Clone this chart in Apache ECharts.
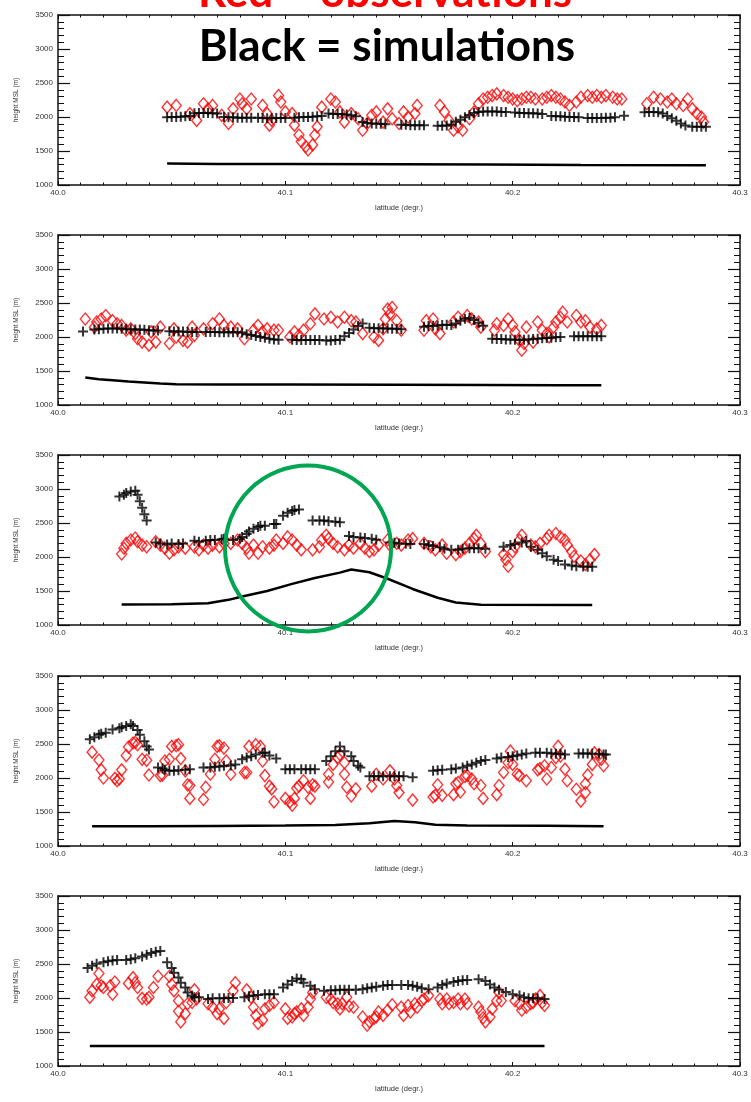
<!DOCTYPE html>
<html><head><meta charset="utf-8">
<script src="https://cdn.jsdelivr.net/npm/echarts@6/dist/echarts.min.js"></script>
<style>html,body{margin:0;padding:0;background:#fff}#c{width:751px;height:1102px}</style>
</head><body><div id="c"></div>
<script>
// ---- axis ticks ----
const latTicks = [40.0, 40.1, 40.2, 40.3];
const heightTicks = [1000, 1500, 2000, 2500, 3000, 3500];
const titleObs = 'Red = observations';
const titleSim = 'Black = simulations';
const xName = 'latitude (degr.)';
const yName = 'height MSL (m)';

// ---- panel 1 ----
const obs1 = [[40.048,2145],[40.052,2170],[40.058,2050],[40.061,1950],[40.064,2195],[40.066,2120],[40.068,2170],[40.072,2025],[40.075,1905],[40.077,2120],[40.080,2265],[40.081,2195],[40.083,2120],[40.085,2265],[40.090,2170],[40.092,2050],[40.093,1880],[40.094,1950],[40.097,2315],[40.098,2220],[40.100,2075],[40.103,2050],[40.104,1880],[40.106,1735],[40.107,1640],[40.109,1565],[40.110,1515],[40.112,1590],[40.113,1735],[40.114,1855],[40.116,2145],[40.120,2265],[40.122,2220],[40.124,2075],[40.126,1925],[40.129,2050],[40.132,1975],[40.134,1805],[40.136,1905],[40.138,2025],[40.140,2075],[40.143,1925],[40.145,2120],[40.147,1975],[40.150,1905],[40.152,2075],[40.154,2000],[40.157,2050],[40.158,2170],
[40.168,2170],[40.170,2075],[40.172,1950],[40.174,1805],[40.176,1855],[40.178,1805],[40.181,1975],[40.183,2075],[40.185,2195],[40.187,2265],[40.189,2290],[40.191,2315],[40.193,2340],[40.196,2315],[40.198,2290],[40.200,2265],[40.202,2240],[40.204,2265],[40.206,2290],[40.208,2290],[40.210,2265],[40.213,2265],[40.215,2290],[40.217,2315],[40.219,2290],[40.221,2265],[40.223,2220],[40.225,2170],[40.228,2220],[40.230,2290],[40.233,2315],[40.235,2290],[40.237,2315],[40.239,2290],[40.241,2315],[40.244,2290],[40.246,2265],[40.248,2265],
[40.259,2195],[40.262,2290],[40.265,2265],[40.268,2220],[40.270,2265],[40.272,2195],[40.275,2170],[40.277,2265],[40.279,2120],[40.281,2050],[40.283,2000],[40.284,1925]];
const sim1 = [[40.048,1995],[40.050,2000],[40.052,2000],[40.054,2005],[40.056,2010],[40.058,2015],
[40.060,2055],[40.062,2060],[40.064,2060],[40.066,2060],[40.068,2055],[40.070,2050],
[40.073,2000],[40.075,1995],[40.077,1995],[40.079,1990],[40.081,1990],[40.083,1990],[40.085,1990],
[40.088,1990],[40.090,1985],[40.092,1980],[40.094,1980],[40.096,1985],[40.098,1985],[40.100,1985],
[40.104,1990],[40.106,1995],[40.108,2000],[40.110,2000],[40.112,2005],[40.114,2010],[40.116,2015],
[40.119,2050],[40.121,2045],[40.123,2045],[40.125,2040],[40.127,2035],[40.129,2025],[40.131,2010],
[40.134,1925],[40.136,1910],[40.138,1905],[40.140,1900],[40.142,1900],[40.144,1895],
[40.151,1885],[40.153,1885],[40.155,1880],[40.157,1880],[40.159,1880],[40.161,1880],
[40.167,1870],[40.169,1870],[40.171,1875],
[40.173,1890],[40.175,1930],[40.177,1960],[40.179,1995],[40.181,2030],[40.183,2060],
[40.185,2075],[40.187,2080],[40.189,2080],[40.191,2080],[40.193,2080],[40.195,2075],[40.197,2075],
[40.201,2065],[40.203,2060],[40.205,2060],[40.207,2055],[40.209,2055],[40.211,2050],[40.213,2045],
[40.217,2015],[40.219,2010],[40.221,2010],[40.223,2005],[40.225,2000],[40.227,2000],[40.229,1995],
[40.233,1985],[40.235,1985],[40.237,1985],[40.239,1985],[40.241,1990],[40.243,1990],[40.245,1995],
[40.249,2020],
[40.258,2070],[40.260,2075],[40.262,2075],
[40.264,2070],[40.266,2050],[40.268,2015],[40.270,1980],[40.272,1945],[40.274,1905],[40.276,1875],
[40.279,1855],[40.281,1855],[40.283,1855],[40.285,1855]];
const terr1 = [[40.048,1315],[40.070,1310],[40.100,1308],[40.150,1305],[40.190,1300],[40.230,1295],[40.285,1290]];

// ---- panel 2 ----
const obs2 = [[40.012,2265],[40.016,2145],[40.017,2220],[40.019,2265],[40.021,2315],[40.024,2240],[40.026,2195],[40.028,2170],[40.030,2100],[40.032,2120],[40.034,2050],[40.035,1975],[40.037,1925],[40.040,1880],[40.041,2075],[40.043,1925],[40.045,2145],[40.049,1905],[40.051,2120],[40.052,2000],[40.055,1950],[40.057,1925],[40.059,2145],[40.060,2025],[40.064,2120],[40.068,2195],[40.071,2265],[40.073,2170],[40.076,2145],[40.079,2120],[40.082,1975],[40.086,2100],[40.088,2170],[40.090,2075],[40.092,2120],[40.095,2100],[40.097,2100],[40.102,2000],[40.104,2075],[40.106,2025],[40.108,2100],[40.111,2195],[40.113,2340],[40.117,2265],[40.120,2290],[40.123,2220],[40.126,2290],[40.129,2240],[40.131,2220],[40.134,2050],[40.139,2000],[40.141,1950],[40.143,2120],[40.144,2265],[40.145,2410],[40.146,2340],[40.147,2435],[40.149,2240],[40.151,2100],[40.161,2100],[40.162,2240],[40.165,2265],[40.166,2120],[40.168,2050],[40.174,2220],[40.176,2290],[40.180,2315],[40.182,2265],[40.185,2220],[40.186,2145],[40.192,2100],[40.193,2195],[40.196,2170],[40.198,2265],[40.200,2170],[40.201,2075],[40.203,1950],[40.204,1805],[40.205,1905],[40.206,2145],[40.209,1925],[40.211,2220],[40.213,2100],[40.215,2050],[40.216,2000],[40.218,2145],[40.219,2220],[40.221,2290],[40.222,2365],[40.224,2220],[40.228,2315],[40.230,2220],[40.232,2240],[40.234,2145],[40.237,2120],[40.239,2170]];
const sim2 = [[40.011,2080],
[40.016,2110],[40.018,2115],[40.020,2120],[40.022,2125],[40.024,2125],[40.026,2125],[40.028,2120],[40.030,2115],
[40.032,2115],[40.034,2110],[40.036,2110],[40.038,2105],[40.040,2100],[40.042,2095],[40.044,2095],
[40.049,2085],[40.051,2080],[40.053,2080],[40.055,2080],[40.057,2075],[40.059,2075],[40.061,2075],
[40.065,2075],[40.067,2075],[40.069,2075],[40.071,2070],[40.073,2070],[40.075,2070],[40.077,2070],[40.079,2070],[40.081,2065],
[40.083,2040],[40.085,2030],[40.087,2015],[40.089,2000],[40.091,1990],[40.093,1975],[40.095,1965],[40.097,1960],
[40.103,1960],[40.105,1955],[40.107,1955],[40.109,1955],[40.111,1955],[40.113,1955],[40.115,1955],
[40.118,1950],[40.120,1950],[40.122,1955],[40.124,1960],
[40.126,2010],[40.128,2060],[40.130,2110],[40.132,2160],[40.134,2200],
[40.137,2135],[40.139,2130],[40.141,2130],[40.143,2125],[40.145,2125],[40.147,2120],[40.149,2120],[40.151,2115],
[40.161,2150],[40.163,2160],[40.165,2165],[40.167,2170],[40.169,2175],[40.171,2180],
[40.173,2175],[40.175,2200],[40.177,2240],[40.179,2270],[40.181,2280],[40.183,2250],[40.185,2210],[40.187,2165],
[40.191,1975],[40.193,1970],[40.195,1970],[40.197,1965],[40.199,1965],[40.201,1960],[40.203,1960],[40.205,1960],
[40.207,1965],[40.209,1970],[40.211,1975],[40.213,1980],[40.215,1985],[40.217,1990],[40.219,1995],[40.221,2000],
[40.227,2010],[40.229,2010],[40.231,2010],[40.233,2010],[40.235,2010],[40.237,2010],[40.239,2010]];
const terr2 = [[40.012,1405],[40.018,1380],[40.024,1365],[40.031,1345],[40.038,1330],[40.045,1315],[40.052,1305],[40.070,1302],[40.103,1300],[40.150,1298],[40.188,1295],[40.220,1292],[40.239,1290]];

// ---- panel 3 ----
const obs3 = [[40.028,2045],[40.029,2130],[40.030,2200],[40.032,2250],[40.034,2280],[40.035,2225],[40.037,2175],[40.039,2150],[40.043,2225],[40.045,2175],[40.047,2130],[40.049,2055],[40.051,2105],[40.053,2150],[40.056,2130],[40.060,2150],[40.062,2105],[40.064,2175],[40.066,2130],[40.068,2175],[40.071,2150],[40.073,2200],[40.076,2200],[40.079,2250],[40.081,2200],[40.083,2130],[40.084,2055],[40.086,2175],[40.088,2055],[40.090,2150],[40.093,2130],[40.095,2175],[40.096,2250],[40.099,2200],[40.101,2295],[40.103,2250],[40.105,2175],[40.107,2105],[40.112,2105],[40.115,2150],[40.116,2250],[40.118,2320],[40.119,2270],[40.121,2200],[40.123,2150],[40.126,2105],[40.128,2175],[40.130,2130],[40.133,2200],[40.135,2130],[40.137,2080],[40.139,2105],[40.141,2175],[40.145,2250],[40.146,2175],[40.149,2200],[40.151,2175],[40.154,2250],[40.156,2270],[40.161,2200],[40.164,2150],[40.166,2105],[40.169,2175],[40.171,2055],[40.175,2035],[40.177,2080],[40.179,2130],[40.181,2200],[40.183,2270],[40.184,2320],[40.186,2200],[40.188,2080],[40.196,2035],[40.197,1960],[40.198,1865],[40.200,2080],[40.201,2150],[40.203,2250],[40.204,2320],[40.208,2175],[40.210,2150],[40.212,2200],[40.215,2270],[40.216,2320],[40.219,2345],[40.221,2295],[40.223,2250],[40.224,2175],[40.226,2080],[40.227,2010],[40.230,1940],[40.232,1890],[40.234,1960],[40.236,2035]];
const sim3 = [[40.027,2890],[40.029,2915],[40.030,2940],[40.032,2965],[40.034,2975],[40.035,2915],[40.036,2820],[40.037,2725],[40.038,2630],[40.039,2535],
[40.043,2215],[40.045,2200],[40.048,2185],[40.050,2200],[40.053,2190],[40.055,2200],
[40.060,2240],[40.062,2225],[40.065,2240],[40.067,2250],[40.069,2250],[40.072,2260],[40.073,2270],
[40.077,2250],[40.080,2270],[40.081,2295],[40.083,2340],[40.084,2375],[40.086,2415],[40.088,2440],[40.089,2460],[40.091,2460],
[40.095,2485],[40.096,2485],
[40.099,2605],[40.101,2650],[40.103,2675],[40.104,2690],[40.106,2700],
[40.112,2535],[40.115,2535],[40.117,2535],[40.119,2525],[40.122,2520],[40.124,2510],
[40.128,2310],[40.130,2295],[40.133,2285],[40.135,2280],[40.138,2270],[40.140,2255],
[40.146,2215],[40.148,2210],[40.150,2200],[40.153,2195],[40.155,2190],
[40.161,2190],[40.163,2175],[40.165,2160],[40.168,2145],[40.170,2120],[40.173,2105],
[40.176,2105],[40.178,2120],[40.181,2130],[40.183,2130],[40.185,2130],[40.188,2120],
[40.196,2150],[40.199,2175],[40.201,2190],[40.204,2215],[40.206,2235],
[40.208,2150],[40.211,2105],[40.213,2055],[40.215,2010],[40.218,1960],[40.220,1940],
[40.223,1890],[40.226,1875],[40.228,1865],[40.231,1860],[40.233,1855],[40.235,1855]];
const terr3 = [[40.028,1300],[40.050,1305],[40.066,1320],[40.075,1370],[40.081,1420],[40.092,1500],[40.103,1605],[40.113,1690],[40.124,1770],[40.129,1815],[40.137,1775],[40.145,1680],[40.156,1530],[40.167,1400],[40.175,1330],[40.186,1298],[40.235,1295]];

// ---- panel 4 ----
const obs4 = [[40.015,2380],[40.018,2265],[40.019,2120],[40.020,2000],[40.025,1995],[40.026,1960],[40.027,1985],[40.028,2120],[40.030,2330],[40.031,2455],[40.033,2515],[40.034,2525],[40.035,2490],[40.037,2275],[40.039,2260],[40.040,2045],[40.045,2035],[40.046,2045],[40.047,2250],[40.049,2275],[40.050,2465],[40.052,2475],[40.053,2490],[40.054,2285],[40.056,2105],[40.057,1900],[40.058,1890],[40.058,1700],[40.064,1685],[40.065,1865],[40.067,2055],[40.069,2275],[40.070,2465],[40.071,2475],[40.073,2440],[40.074,2250],[40.076,2055],[40.082,2080],[40.083,2080],[40.084,2465],[40.087,2490],[40.089,2465],[40.090,2250],[40.091,2035],[40.093,1880],[40.094,1840],[40.095,1650],[40.100,1700],[40.102,1650],[40.103,1600],[40.104,1700],[40.105,1850],[40.106,1880],[40.108,1960],[40.110,1865],[40.111,1700],[40.112,1900],[40.113,1880],[40.119,1940],[40.119,2055],[40.121,2200],[40.123,2300],[40.124,2345],[40.126,2225],[40.126,2055],[40.127,1865],[40.129,1735],
[40.131,1840],[40.138,1880],[40.140,2055],[40.143,1985],[40.146,2105],[40.148,1985],[40.149,1890],[40.150,1785],[40.156,1675],[40.165,1720],[40.166,1745],[40.167,1900],[40.169,1745],[40.174,1755],[40.175,1915],[40.176,1935],[40.177,1795],[40.179,2025],[40.180,2035],[40.182,1985],[40.183,1915],[40.186,1890],[40.187,1700],[40.193,1755],[40.194,1890],[40.196,2080],[40.198,2225],[40.199,2395],[40.200,2200],[40.202,2055],[40.203,2035],[40.206,1960],[40.211,2120],[40.212,2140],[40.214,2180],[40.215,1985],[40.217,2155],[40.219,2300],[40.220,2465],[40.221,2320],[40.223,2130],[40.224,1960],[40.228,1835],[40.230,1660],[40.232,1785],[40.232,1915],[40.233,2045],[40.235,2200],[40.236,2370],[40.238,2345],[40.239,2275],[40.240,2180]];
const sim4 = [[40.014,2570],[40.016,2600],[40.018,2635],[40.019,2650],[40.021,2665],[40.024,2715],[40.027,2730],[40.028,2745],[40.030,2765],[40.032,2790],[40.033,2765],[40.035,2705],[40.036,2635],[40.038,2540],[40.039,2465],[40.040,2420],
[40.044,2155],[40.046,2140],[40.047,2120],[40.049,2105],[40.051,2105],[40.053,2115],[40.056,2120],[40.058,2130],
[40.064,2155],[40.067,2155],[40.069,2165],[40.071,2170],[40.073,2180],[40.076,2185],[40.078,2200],
[40.081,2275],[40.083,2300],[40.085,2320],[40.087,2345],[40.090,2370],[40.091,2370],[40.093,2330],[40.096,2285],
[40.100,2130],[40.102,2130],[40.104,2130],[40.107,2130],[40.109,2130],[40.111,2130],[40.113,2130],
[40.118,2250],[40.120,2320],[40.122,2395],[40.124,2465],
[40.126,2395],[40.129,2320],[40.130,2250],[40.132,2180],[40.133,2155],
[40.137,2025],[40.139,2025],[40.141,2025],[40.143,2025],[40.146,2025],[40.148,2025],[40.150,2025],[40.152,2025],[40.156,2010],
[40.165,2105],[40.167,2115],[40.169,2120],
[40.173,2130],[40.175,2140],[40.178,2155],[40.180,2180],[40.182,2200],[40.184,2225],[40.186,2250],[40.188,2265],
[40.193,2285],[40.195,2300],[40.198,2310],[40.200,2320],[40.202,2330],[40.204,2345],[40.206,2360],
[40.210,2370],[40.212,2370],[40.215,2370],[40.217,2360],[40.219,2355],[40.221,2355],[40.223,2345],
[40.229,2360],[40.231,2360],[40.233,2360],[40.235,2355],[40.238,2355],[40.240,2345],[40.241,2345]];
const terr4 = [[40.015,1290],[40.040,1290],[40.070,1295],[40.100,1300],[40.122,1310],[40.137,1335],[40.148,1368],[40.157,1350],[40.166,1312],[40.180,1302],[40.215,1298],[40.240,1292]];

// ---- panel 5 ----
const obs5 = [[40.014,2010],[40.015,2105],[40.017,2200],[40.018,2360],[40.019,2180],[40.020,2155],[40.023,2180],[40.024,2055],[40.025,2235],[40.031,2215],[40.033,2300],[40.034,2225],[40.035,2155],[40.037,1995],[40.039,1985],[40.040,2010],[40.042,2155],[40.044,2320],[40.049,2320],[40.050,2200],[40.051,2105],[40.053,1960],[40.053,1805],[40.054,1650],[40.056,1770],[40.057,1915],[40.059,1935],[40.060,2120],[40.061,1985],[40.066,1915],[40.068,1865],[40.070,1770],[40.071,1840],[40.073,1700],[40.074,1935],[40.077,2105],[40.078,2225],[40.083,2120],[40.085,2010],[40.086,1865],[40.087,1745],[40.088,1625],[40.090,1675],[40.091,1840],[40.093,1890],[40.095,1935],[40.100,1840],[40.101,1700],[40.103,1720],[40.104,1770],[40.105,1795],[40.107,1840],[40.108,1745],[40.110,1865],[40.111,1985],[40.112,2080],[40.118,2010],[40.120,1985],[40.121,1935],[40.123,1915],[40.124,1840],[40.125,1915],[40.127,2010],[40.128,1880],[40.130,1865],[40.134,1720],[40.136,1600],[40.137,1650],[40.139,1700],[40.140,1720],[40.141,1795],[40.143,1745],[40.145,1820],[40.147,1900],[40.151,1865],[40.152,1745],[40.154,1890],[40.155,1795],[40.157,1915],[40.158,1865],[40.160,1960],[40.161,1985],[40.163,2035],[40.168,1985],[40.169,1915],[40.171,1985],[40.172,1915],[40.174,1935],[40.176,1985],[40.177,1915],[40.179,1985],[40.180,1915],[40.185,1865],[40.186,1795],[40.187,1710],[40.188,1650],[40.190,1720],[40.191,1840],[40.193,1960],[40.194,2080],[40.195,1960],[40.201,1960],[40.203,1915],[40.204,1820],[40.206,1865],[40.208,1915],[40.209,1935],[40.210,1985],[40.212,2035],[40.213,1935],[40.214,1890]];
const sim5 = [[40.013,2440],[40.015,2475],[40.017,2505],[40.020,2525],[40.022,2540],[40.024,2550],[40.026,2560],[40.030,2560],[40.032,2570],[40.034,2585],[40.037,2610],[40.039,2635],[40.041,2660],[40.043,2680],[40.045,2690],
[40.048,2525],[40.050,2440],[40.051,2370],[40.053,2300],[40.054,2225],[40.056,2155],[40.057,2080],[40.059,2035],[40.060,2010],[40.062,2010],
[40.066,1985],[40.068,1995],[40.071,1995],[40.073,1995],[40.075,2000],[40.077,2000],
[40.082,2010],[40.084,2025],[40.086,2035],[40.088,2045],[40.091,2055],[40.093,2055],[40.095,2055],
[40.099,2155],[40.101,2200],[40.103,2250],[40.105,2285],[40.107,2275],[40.108,2225],[40.111,2180],[40.113,2130],
[40.117,2105],[40.120,2115],[40.122,2115],[40.124,2120],[40.126,2120],[40.128,2120],[40.131,2120],
[40.134,2130],[40.136,2145],[40.138,2155],[40.140,2165],[40.143,2180],[40.145,2190],[40.147,2190],
[40.151,2190],[40.154,2190],[40.156,2180],[40.158,2165],[40.160,2145],[40.163,2130],
[40.167,2155],[40.169,2190],[40.171,2215],[40.174,2235],[40.176,2250],[40.178,2260],[40.180,2265],
[40.185,2275],[40.188,2250],[40.190,2200],[40.192,2155],[40.194,2120],[40.197,2090],
[40.200,2055],[40.203,2035],[40.205,2010],[40.207,1995],[40.209,1995],[40.211,1995],[40.214,1985]];
const terr5 = [[40.014,1295],[40.100,1295],[40.214,1295]];

// annotation (green circle) centre in data units
const circleCenter = [40.110, 2125];

const panels = [[obs1,sim1,terr1],[obs2,sim2,terr2],[obs3,sim3,terr3],[obs4,sim4,terr4],[obs5,sim5,terr5]];
const tops = [15, 235, 455, 676, 896];
const PLUS = 'path://M4,0H6V4H10V6H6V10H4V6H0V4H4Z';
const AX = '#111';
const LBL = '#333';
const FONT = 'Liberation Sans';

const grids = [], xAxes = [], yAxes = [], series = [];
panels.forEach((p, i) => {
  grids.push({left: 58, top: tops[i], width: 682, height: 170, outerBoundsMode: 'none', containLabel: false});
  const xBase = {gridIndex: i, type: 'value', min: latTicks[0], max: latTicks[latTicks.length-1], interval: 0.1,
    splitLine: {show: false},
    axisLine: {show: true, onZero: false, lineStyle: {color: AX, width: 1.5}},
    axisTick: {show: true, inside: true, length: 4, lineStyle: {color: AX, width: 1}},
    minorTick: {show: true, splitNumber: 10, length: 2.5, lineStyle: {color: AX, width: 1}}};
  xAxes.push(Object.assign({}, xBase, {position: 'bottom',
    axisLabel: {show: true, fontSize: 8, color: LBL, fontFamily: FONT, margin: 4, formatter: v => v.toFixed(1), showMinLabel: true, showMaxLabel: true},
    name: xName, nameLocation: 'middle', nameGap: 19, nameTextStyle: {fontSize: 7.5, color: LBL, fontFamily: FONT}}));
  xAxes.push(Object.assign({}, xBase, {position: 'top', axisLabel: {show: false}}));
  const yBase = {gridIndex: i, type: 'value', min: heightTicks[0], max: heightTicks[heightTicks.length-1], interval: 500,
    splitLine: {show: false},
    axisLine: {show: true, onZero: false, lineStyle: {color: AX, width: 1.5}},
    axisTick: {show: true, inside: true, length: 12, lineStyle: {color: AX, width: 1.2}},
    minorTick: {show: true, splitNumber: 5, length: 6, lineStyle: {color: AX, width: 1}}};
  yAxes.push(Object.assign({}, yBase, {position: 'left',
    axisLabel: {show: true, fontSize: 8, color: LBL, fontFamily: FONT, margin: 5, formatter: v => String(Math.round(v))},
    name: yName, nameLocation: 'middle', nameGap: 38, nameRotate: 90, nameTextStyle: {fontSize: 6.5, color: LBL, fontFamily: FONT}}));
  yAxes.push(Object.assign({}, yBase, {position: 'right', axisLabel: {show: false}}));
  series.push({type: 'scatter', xAxisIndex: 2*i, yAxisIndex: 2*i, data: p[0], symbol: 'diamond', symbolSize: [10, 12],
    itemStyle: {color: 'rgba(255,255,255,0)', borderColor: '#ff0000', borderWidth: 1.4}, z: 2, silent: true});
  series.push({type: 'scatter', xAxisIndex: 2*i, yAxisIndex: 2*i, data: p[1], symbol: PLUS, symbolSize: 10,
    itemStyle: {color: '#000'}, z: 3, silent: true});
  series.push({type: 'line', xAxisIndex: 2*i, yAxisIndex: 2*i, data: p[2], showSymbol: false, symbol: 'none',
    lineStyle: {color: '#000', width: 2.5}, z: 3, silent: true});
});

const chart = echarts.init(document.getElementById('c'), null, {renderer: 'canvas'});
chart.setOption({animation: false, backgroundColor: '#fff', grid: grids, xAxis: xAxes, yAxis: yAxes, series: series});

const cc = chart.convertToPixel({xAxisIndex: 4, yAxisIndex: 4}, circleCenter);
chart.setOption({graphic: [
  {type: 'text', id: 't1', x: 385, y: -7, z: 100, style: {text: titleObs, fill: '#ff0000', font: 'bold 44px Lato', align: 'center', verticalAlign: 'middle'}},
  {type: 'text', id: 't2', x: 387, y: 47, z: 100, style: {text: titleSim, fill: '#000', font: 'bold 44px Lato', align: 'center', verticalAlign: 'middle'}},
  {type: 'circle', id: 'c1', z: 100, shape: {cx: cc[0], cy: cc[1], r: 83}, style: {fill: 'none', stroke: '#00a651', lineWidth: 4}}
]});
</script></body></html>
